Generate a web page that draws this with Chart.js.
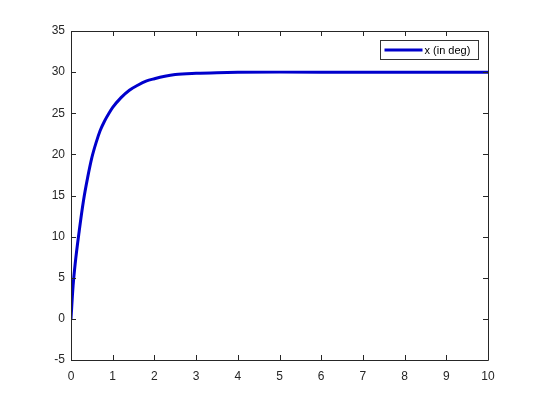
<!DOCTYPE html>
<html>
<head>
<meta charset="utf-8">
<script src="https://cdn.jsdelivr.net/npm/chart.js@4.4.0/dist/chart.umd.min.js"></script>
<style>
  html, body { margin: 0; padding: 0; background: #fff; }
  #wrap { width: 540px; height: 405px; }
</style>
</head>
<body>
<div id="wrap"><canvas id="c" width="540" height="405"></canvas></div>
<script>
// time (s) and response
const times = [0, 0.05, 0.1, 0.2, 0.3, 0.4, 0.5, 0.6, 0.7, 0.8, 0.9, 1.0, 1.2, 1.4, 1.6, 1.8, 2.0, 2.25, 2.5, 3, 3.5, 4, 5, 6, 7, 8, 9, 10];
const angle = [0, 4.0, 6.7, 10.8, 14.4, 17.2, 19.6, 21.4, 22.9, 24.0, 24.9, 25.7, 26.9, 27.8, 28.4, 28.9, 29.2, 29.5, 29.7, 29.85, 29.93, 29.97, 30, 30, 30, 30, 30, 30];
const seriesLabel = 'x (in deg)';
const xTicks = [0, 1, 2, 3, 4, 5, 6, 7, 8, 9, 10];
const yTicks = [-5, 0, 5, 10, 15, 20, 25, 30, 35];

const axisColor = '#262626';
const lineColor = '#0000cc';
const fontFamily = '"Liberation Sans", Arial, Helvetica, sans-serif';

// matlab-style box with inward ticks + legend inside the axes
const matlabBox = {
  id: 'matlabBox',
  afterDraw(chart) {
    const { ctx, chartArea: a, scales } = chart;
    const x = scales.x, y = scales.y;
    const len = 5;
    ctx.save();
    ctx.strokeStyle = axisColor;
    ctx.lineWidth = 1;
    ctx.beginPath();
    ctx.rect(a.left + 0.5, a.top + 0.5, a.right - a.left, a.bottom - a.top);
    xTicks.forEach(v => {
      const px = Math.round(x.getPixelForValue(v)) + 0.5;
      ctx.moveTo(px, a.bottom); ctx.lineTo(px, a.bottom - len);
      ctx.moveTo(px, a.top); ctx.lineTo(px, a.top + len);
    });
    yTicks.forEach(v => {
      const py = Math.round(y.getPixelForValue(v)) + 0.5;
      ctx.moveTo(a.left, py); ctx.lineTo(a.left + len, py);
      ctx.moveTo(a.right, py); ctx.lineTo(a.right - len, py);
    });
    ctx.stroke();

    // legend
    const bx = 380.5, by = 40.5, bw = 98, bh = 19;
    ctx.fillStyle = '#fff';
    ctx.fillRect(bx, by, bw, bh);
    ctx.strokeStyle = '#333';
    ctx.strokeRect(bx, by, bw, bh);
    ctx.strokeStyle = lineColor;
    ctx.lineWidth = 3;
    ctx.beginPath();
    ctx.moveTo(bx + 4, by + bh / 2);
    ctx.lineTo(bx + 42, by + bh / 2);
    ctx.stroke();
    ctx.fillStyle = '#000';
    ctx.font = '11px ' + fontFamily;
    ctx.textBaseline = 'middle';
    ctx.fillText(chart.data.datasets[0].label, bx + 44, by + bh / 2 + 0.5);
    ctx.restore();
  }
};

new Chart(document.getElementById('c'), {
  type: 'line',
  data: {
    datasets: [{
      label: seriesLabel,
      data: times.map((t, i) => ({ x: t, y: angle[i] })),
      borderColor: lineColor,
      borderWidth: 3,
      pointRadius: 0,
      cubicInterpolationMode: 'monotone',
      fill: false
    }]
  },
  options: {
    responsive: false,
    animation: false,
    layout: { padding: { left: 0, top: 31, right: 52, bottom: 0 } },
    plugins: { legend: { display: false }, tooltip: { enabled: false } },
    scales: {
      x: {
        type: 'linear',
        min: 0, max: 10,
        afterFit(s) { s.height = 45; },
        afterBuildTicks(s) { s.ticks = xTicks.map(v => ({ value: v })); },
        grid: { display: false, drawTicks: false },
        border: { display: false },
        ticks: { color: axisColor, padding: 9, maxRotation: 0, font: { family: fontFamily, size: 12 } }
      },
      y: {
        type: 'linear',
        min: -5, max: 35,
        afterFit(s) { s.width = 71; },
        afterBuildTicks(s) { s.ticks = yTicks.map(v => ({ value: v })); },
        grid: { display: false, drawTicks: false },
        border: { display: false },
        ticks: { color: axisColor, padding: 6, font: { family: fontFamily, size: 12 } }
      }
    }
  },
  plugins: [matlabBox]
});
</script>
</body>
</html>
